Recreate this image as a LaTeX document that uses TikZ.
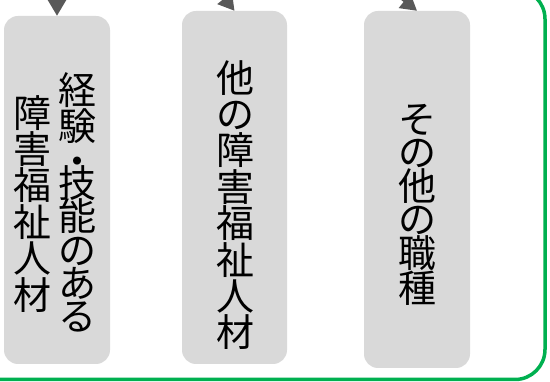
\documentclass[tikz,border=0pt]{standalone}
\usepackage{fontspec}
\newfontfamily\jp{Noto Sans CJK JP}
\usetikzlibrary{arrows.meta}
\definecolor{boxgray}{HTML}{D9D9D9}
\definecolor{arrowgray}{HTML}{595959}
\definecolor{framegreen}{HTML}{00B050}
\begin{document}
\begin{tikzpicture}[x=1pt,y=-1pt,
  card/.style={fill=boxgray, rounded corners=14pt, inner sep=0pt},
  vtext/.style={font=\jp\fontsize{38}{36.4}\selectfont, align=center, inner sep=0pt, anchor=north, text=black},
  link/.style={draw=arrowgray, line width=3pt, -{Triangle[length=16pt,width=18pt]}}]
\useasboundingbox (0,0) rectangle (550,382);
\begin{scope}
\clip (0,0) rectangle (550,382);
\draw[framegreen, line width=3.5pt, rounded corners=30pt] (-60,-11) rectangle (545,379.5);
\node[card, minimum width=106pt, minimum height=348pt] (b1) at (57,190) {};
\node[card, minimum width=105pt, minimum height=353pt] (b2) at (234.5,187.5) {};
\node[card, minimum width=106pt, minimum height=357pt] (b3) at (417,189.5) {};
\coordinate (s1) at (57,-30);
\coordinate (s2) at (203,-29);
\coordinate (s3) at (380,-19);
\draw[link] (s1) -- (b1.north);
\draw[link] (s2) -- (b2.north);
\draw[link] (s3) -- (b3.north);
\node[vtext] (t1a) at (77,72) {経\\験\\[-1pt]・\\[-15pt]技\\[-3pt]能\\[-3pt]の\\[-3pt]あ\\[-3pt]る};
\node[vtext] (t1b) at (32,95) {障\\害\\福\\祉\\人\\材};
\node[vtext] (t2) at (235,60) {他\\の\\障\\害\\福\\祉\\人\\材};
\node[vtext, font=\jp\fontsize{38}{33}\selectfont] (t3) at (417,104) {そ\\の\\他\\の\\職\\種};
\end{scope}
\end{tikzpicture}
\end{document}
